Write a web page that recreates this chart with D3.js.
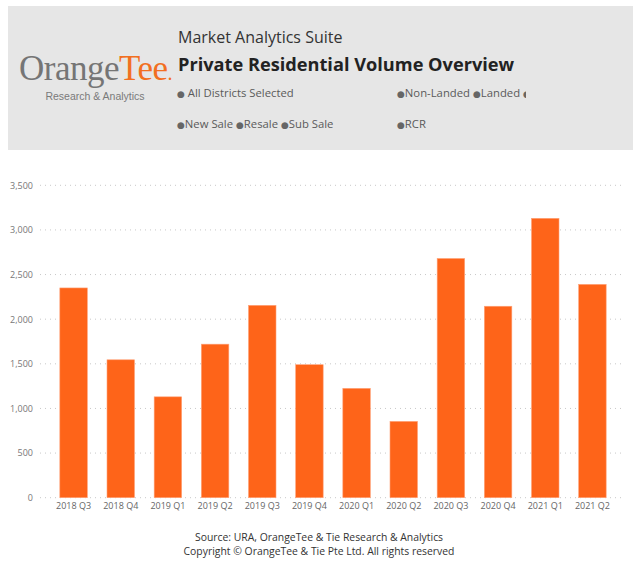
<!DOCTYPE html>
<html>
<head>
<meta charset="utf-8">
<script src="https://cdn.jsdelivr.net/npm/d3@7"></script>
<style>
  body { margin: 0; background: #fff; }
  text { font-family: "Segoe UI", "Open Sans", sans-serif; }
</style>
</head>
<body>
<svg id="chart" width="633" height="561"></svg>
<script>
// quarters and transaction volumes
const quarters = ["2018 Q3", "2018 Q4", "2019 Q1", "2019 Q2", "2019 Q3", "2019 Q4",
                  "2020 Q1", "2020 Q2", "2020 Q3", "2020 Q4", "2021 Q1", "2021 Q2"];
const volumes = [2350, 1545, 1130, 1720, 2155, 1490, 1225, 855, 2680, 2145, 3130, 2390];
const yTicks = [0, 500, 1000, 1500, 2000, 2500, 3000, 3500];
// filter chips shown in the header, one list per group
const chipsDistrict = ["  All Districts Selected"];
const chipsType = ["Non-Landed ", "Landed  ", ""];
const chipsSale = ["New Sale ", "Resale ", "Sub Sale"];
const chipsRegion = ["RCR"];

const svg = d3.select("#chart");

// header panel
svg.append("rect")
    .attr("x", 8).attr("y", 6).attr("width", 625).attr("height", 144)
    .attr("fill", "#e6e6e6");

// logo
let logo = svg.append("text")
    .attr("x", 19).attr("y", 80)
    .style("font-family", "'Liberation Serif', 'DejaVu Serif', serif")
    .style("font-size", "35px")
    .style("letter-spacing", "-0.5px");
logo.append("tspan").attr("fill", "#757575").text("Orange");
logo.append("tspan").attr("fill", "#f26f21").text("Tee");
logo.append("tspan").attr("fill", "#f26f21").style("font-size", "20px").text(".");

svg.append("text")
    .attr("x", 95).attr("y", 100)
    .attr("text-anchor", "middle")
    .attr("fill", "#7a7a7a")
    .style("font-family", "'Liberation Sans', Arial, sans-serif")
    .style("font-size", "10.5px")
    .text("Research & Analytics");

// titles
svg.append("text")
    .attr("x", 178).attr("y", 43)
    .attr("fill", "#333")
    .style("font-size", "16px")
    .text("Market Analytics Suite");

svg.append("text")
    .attr("x", 178).attr("y", 71)
    .attr("fill", "#222")
    .style("font-size", "18.2px").style("font-weight", "bold")
    .text("Private Residential Volume Overview");

// filter chips (the last one is cut off by the panel edge)
svg.append("clipPath").attr("id", "clipHead")
    .append("rect").attr("x", 0).attr("y", 0).attr("width", 526).attr("height", 150);

let filt = svg.append("g")
    .attr("clip-path", "url(#clipHead)")
    .style("font-size", "11.3px");

function chipRow(items, x, y) {
    let t = filt.append("text").attr("x", x).attr("y", y);
    items.forEach(s => {
        t.append("tspan").attr("fill", "#666")
            .style("font-family", "'DejaVu Sans', sans-serif")
            .style("font-size", "9px").text("●");
        t.append("tspan").attr("fill", "#5a5a5a").text(s);
    });
}
chipRow(chipsDistrict, 177, 97);
chipRow(chipsType, 397, 97);
chipRow(chipsSale, 177, 128);
chipRow(chipsRegion, 397, 128);

// scales
let scX = d3.scaleBand()
    .domain(quarters)
    .range([50, 616])
    .paddingInner(0.417)
    .paddingOuter(0.2085);
let scY = d3.scaleLinear()
    .domain([0, 3500])
    .range([497.7, 185.3]);

// gridlines
svg.append("g").attr("id", "grid")
    .selectAll("line")
    .data(yTicks).enter().append("line")
    .attr("x1", 40).attr("x2", 623)
    .attr("y1", d => scY(d)).attr("y2", d => scY(d))
    .attr("stroke", "#c8c8c8")
    .attr("stroke-width", 1)
    .attr("stroke-dasharray", "1,4");

// y axis labels
let yAxis = d3.axisLeft(scY).tickValues(yTicks).tickSize(0).tickPadding(0)
    .tickFormat(d3.format(","));
svg.append("g")
    .attr("transform", "translate(33,0)")
    .call(yAxis)
    .call(g => g.select(".domain").remove())
    .call(g => g.selectAll("text")
        .attr("fill", "#777")
        .style("font-size", "9px")
        .style("font-family", "'Segoe UI', 'Open Sans', sans-serif"));

// bars
svg.append("g").attr("id", "bars")
    .selectAll("rect")
    .data(volumes).enter().append("rect")
    .attr("x", (d, i) => scX(quarters[i]))
    .attr("width", scX.bandwidth())
    .attr("y", d => scY(d))
    .attr("height", d => scY(0) - scY(d))
    .attr("fill", "#fe6419")
    .attr("stroke", "#ffa278")
    .attr("stroke-width", 0.6);

// x axis labels
let xAxis = d3.axisBottom(scX).tickSize(0).tickPadding(0);
svg.append("g")
    .attr("transform", "translate(0,503)")
    .call(xAxis)
    .call(g => g.select(".domain").remove())
    .call(g => g.selectAll("text")
        .attr("fill", "#666")
        .style("font-size", "9px")
        .style("font-family", "'Segoe UI', 'Open Sans', sans-serif"));

// footer
svg.append("text")
    .attr("x", 319).attr("y", 541)
    .attr("text-anchor", "middle").attr("fill", "#333")
    .style("font-size", "10.4px")
    .text("Source: URA, OrangeTee & Tie Research & Analytics");
svg.append("text")
    .attr("x", 319).attr("y", 555)
    .attr("text-anchor", "middle").attr("fill", "#333")
    .style("font-size", "10.4px")
    .text("Copyright © OrangeTee & Tie Pte Ltd. All rights reserved");
</script>
</body>
</html>
